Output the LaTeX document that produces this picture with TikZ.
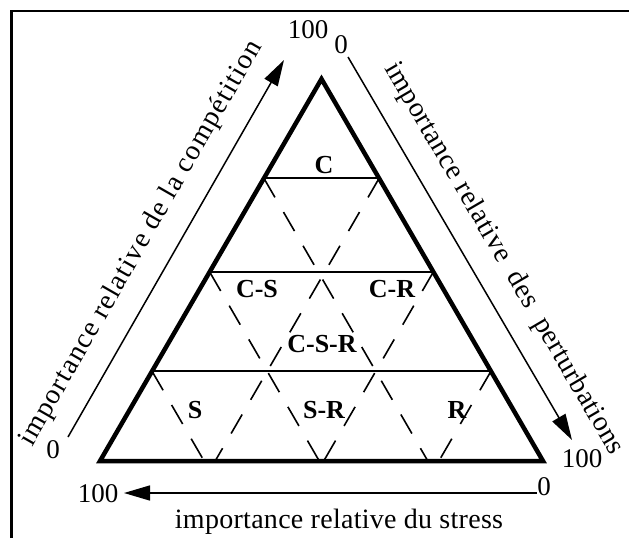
\documentclass[tikz,border=0pt]{standalone}
\usepackage{fontspec}
\setmainfont{Liberation Serif}
\usetikzlibrary{arrows.meta,calc}

\begin{document}
\begin{tikzpicture}[
  x=1pt,y=-1pt,
  triangle/.style={line width=4.5pt},
  level/.style={line width=2pt},
  boundary/.style={line width=1.6pt,dash pattern=on 22pt off 17pt},
  axis/.style={line width=1.5pt},
  head/.style={-{Triangle[length=26pt,width=15pt]}},
  strategy/.style={font=\fontsize{26}{28}\selectfont\bfseries,anchor=base},
  num/.style={font=\fontsize{27}{29}\selectfont,anchor=base},
  axislabel/.style={font=\fontsize{28}{30}\selectfont,sloped,above,inner sep=19pt}
]
  \useasboundingbox (0,0) rectangle (629,538);
  \draw[line width=2.5pt] (11.5,538) -- (11.5,11) -- (629,11);

  \coordinate (A) at (100,461);
  \coordinate (B) at (543,461);
  \coordinate (T) at (321.5,79);
  \draw[triangle] (A) -- (B) -- (T) -- cycle;

  \foreach \t/\n in {0.26/1,0.505/2,0.765/3} {
    \coordinate (L\n) at ($(T)!\t!(A)$);
    \coordinate (R\n) at ($(T)!\t!(B)$);
    \draw[level] (L\n) -- (R\n);
    \draw[boundary] (L\n) -- ($(B)!\t!(A)$);
    \draw[boundary] (R\n) -- ($(A)!\t!(B)$);
  }

  \node[strategy] (c) at (324,173) {C};
  \node[strategy] (cs) at (257,297) {C-S};
  \node[strategy] (cr) at (392,297) {C-R};
  \node[strategy] (csr) at (322,352) {C-S-R};
  \node[strategy] (s) at (195,418) {S};
  \node[strategy] (sr) at (324,418) {S-R};
  \node[strategy] (r) at (457,418) {R};

  \coordinate (compLow) at (68,437);
  \coordinate (compHigh) at (284,60);
  \coordinate (pertLow) at (348,57);
  \coordinate (pertHigh) at (572,440);
  \coordinate (stressLow) at (537,493);
  \coordinate (stressHigh) at (124,493);

  \draw[axis,head] (compLow) -- node[axislabel,pos=.47]
    (comp) {\addfontfeature{LetterSpace=5}importance relative de la compétition} (compHigh);
  \draw[axis,head] (pertLow) -- node[axislabel,pos=.57]
    (pert) {\addfontfeature{LetterSpace=2}importance relative\ \ des\ \ perturbations} (pertHigh);
  \draw[axis,head] (stressLow) -- (stressHigh);
  \node[font=\fontsize{28}{30}\selectfont,anchor=base]
    (stress) at (339,528) {\addfontfeature{LetterSpace=1}importance relative du stress};

  \node[num] (comp100) at (308,38) {100};
  \node[num] (pert0) at (341,53) {0};
  \node[num] (comp0) at (53,458) {0};
  \node[num] (pert100) at (582,467) {100};
  \node[num] (stress100) at (98,502) {100};
  \node[num] (stress0) at (544,495) {0};
\end{tikzpicture}
\end{document}
